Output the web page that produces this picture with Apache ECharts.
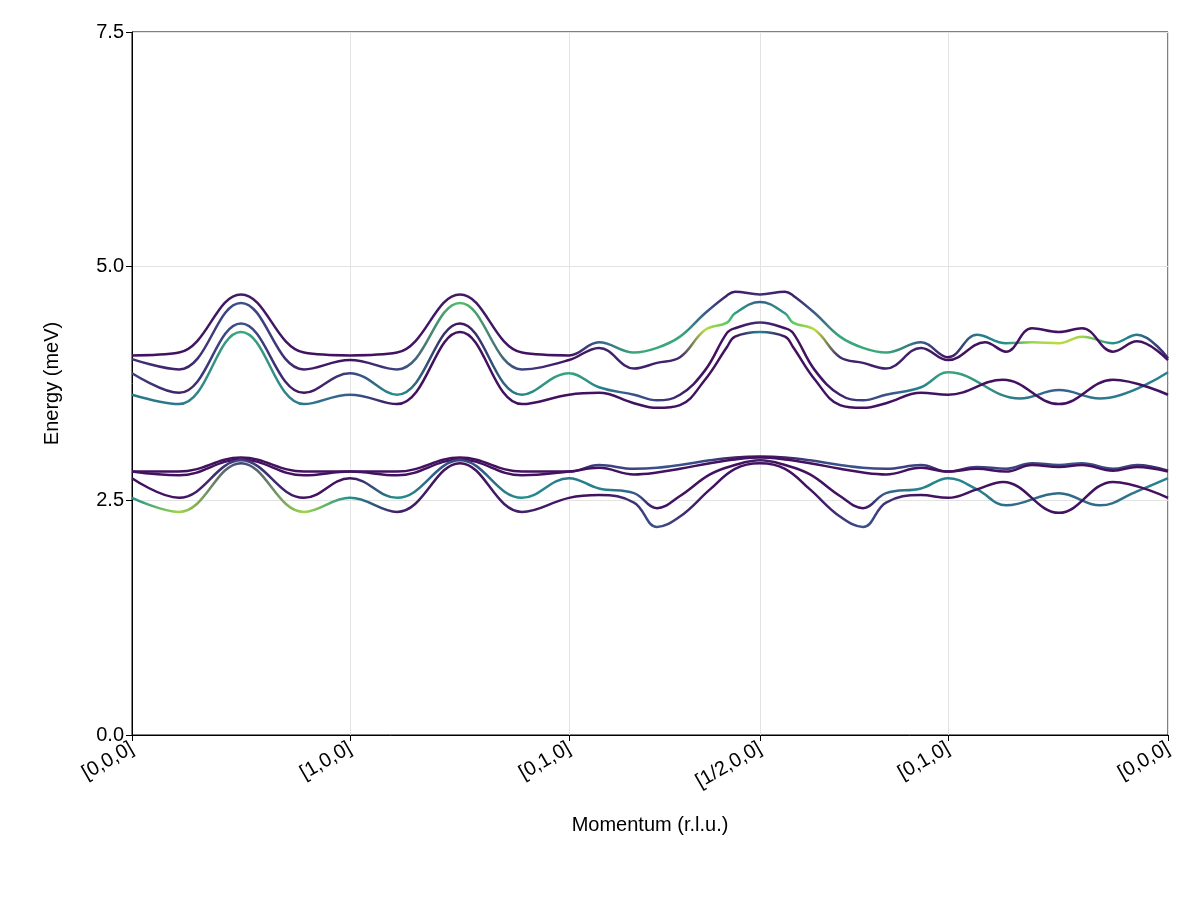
<!DOCTYPE html>
<html lang="en">
<head>
    <meta charset="UTF-8">
    <title>bands</title>
    <style>
        html, body { margin: 0; padding: 0; background: #fff; }
        #canvas { width: 1200px; height: 900px; }
    </style>
</head>
<body>
<div id="canvas"></div>
<script src="https://cdn.jsdelivr.net/npm/echarts@6/dist/echarts.min.js"></script>
<script>
    // path coordinate of each high-symmetry point, and its label
    const tickPos = [0, 218, 437, 628, 816, 1036]
    const tickLabels = ['[0,0,0]', '[1,0,0]', '[0,1,0]', '[1/2,0,0]', '[0,1,0]', '[0,0,0]']

    // each band: [path x, energy (meV), intensity 0..1]
    const upper1 = [
        [0, 4.05, .05], [47, 4.08, .05], [109, 4.70, .08], [172, 4.08, .05], [218, 4.05, .05],
        [265, 4.08, .05], [328, 4.70, .08], [390, 4.08, .05], [437, 4.05, .05],
        [467, 4.19, .3], [502, 4.08, .6], [525, 4.13, .6], [548, 4.25, .6], [573, 4.50, .3], [595, 4.69, .1], [603, 4.73, .08], [628, 4.70, .15],
        [653, 4.73, .08], [661, 4.69, .1], [683, 4.50, .3], [708, 4.25, .6], [731, 4.13, .6], [754, 4.08, .6], [789, 4.19, .3], [816, 4.03, .05],
        [845, 4.27, .4], [874, 4.18, .5], [900, 4.19, .85], [927, 4.18, .9], [950, 4.25, .85], [981, 4.18, .5], [1005, 4.27, .4], [1036, 4.02, .1]
    ]
    const upper2 = [
        [0, 4.01, .15], [47, 3.90, .1], [109, 4.61, .25], [172, 3.90, .1], [218, 4.00, .05],
        [265, 3.90, .2], [328, 4.61, .7], [390, 3.90, .2], [437, 4.00, .05],
        [467, 4.13, .1], [502, 3.91, .1], [525, 3.97, .1], [548, 4.03, .12], [573, 4.32, .9], [595, 4.40, .75], [603, 4.50, .55], [628, 4.62, .3],
        [653, 4.50, .55], [661, 4.40, .75], [683, 4.32, .9], [708, 4.03, .12], [731, 3.97, .1], [754, 3.91, .1], [789, 4.13, .1], [816, 4.00, .05],
        [853, 4.19, .05], [874, 4.09, .05], [900, 4.34, .05], [927, 4.30, .05], [950, 4.34, .05], [981, 4.09, .05], [1005, 4.20, .05], [1036, 4.00, .05]
    ]
    const upper3 = [
        [0, 3.86, .2], [47, 3.65, .1], [109, 4.39, .25], [172, 3.65, .05], [218, 3.86, .2],
        [265, 3.63, .5], [328, 4.39, .05], [390, 3.63, .45], [437, 3.86, .6],
        [467, 3.71, .45], [502, 3.63, .25], [525, 3.57, .2], [548, 3.63, .1], [573, 3.89, .05], [595, 4.29, .05], [603, 4.34, .05], [628, 4.40, .15],
        [653, 4.34, .05], [661, 4.29, .05], [683, 3.89, .05], [708, 3.63, .1], [731, 3.57, .2], [754, 3.63, .25], [789, 3.71, .45], [816, 3.87, .6],
        [888, 3.59, .4], [927, 3.68, .3], [968, 3.59, .4], [1036, 3.87, .45]
    ]
    const upper4 = [
        [0, 3.63, .4], [47, 3.53, .4], [109, 4.30, .6], [172, 3.53, .4], [218, 3.63, .3],
        [265, 3.53, .05], [328, 4.30, .05], [390, 3.53, .05], [437, 3.63, .05],
        [467, 3.65, .05], [502, 3.54, .05], [525, 3.49, .05], [548, 3.52, .05], [573, 3.79, .05], [595, 4.14, .05], [603, 4.25, .05], [628, 4.30, .45],
        [653, 4.25, .05], [661, 4.14, .05], [683, 3.79, .05], [708, 3.52, .05], [731, 3.49, .05], [754, 3.54, .05], [789, 3.65, .05], [816, 3.63, .05],
        [871, 3.79, .05], [927, 3.53, .05], [981, 3.79, .05], [1036, 3.63, .05]
    ]
    const lower1 = [
        [0, 2.81, .05], [47, 2.81, .05], [109, 2.96, .05], [172, 2.81, .05], [218, 2.81, .05],
        [265, 2.81, .05], [328, 2.96, .05], [390, 2.81, .05], [437, 2.81, .05],
        [467, 2.88, .2], [502, 2.84, .2], [525, 2.85, .25], [548, 2.88, .25], [578, 2.93, .2], [603, 2.96, .1], [628, 2.97, .05],
        [653, 2.96, .1], [678, 2.93, .2], [708, 2.88, .25], [731, 2.85, .25], [754, 2.84, .2], [789, 2.88, .2], [816, 2.81, .05],
        [845, 2.86, .2], [874, 2.84, .2], [900, 2.90, .2], [927, 2.88, .25], [950, 2.90, .25], [981, 2.84, .2], [1005, 2.88, .2], [1036, 2.82, .1]
    ]
    const lower2 = [
        [0, 2.81, .05], [47, 2.77, .05], [109, 2.94, .05], [172, 2.77, .05], [218, 2.81, .05],
        [265, 2.77, .05], [328, 2.94, .05], [390, 2.77, .05], [437, 2.81, .05],
        [467, 2.85, .05], [502, 2.78, .05], [525, 2.80, .05], [548, 2.84, .05], [578, 2.90, .05], [603, 2.94, .05], [628, 2.96, .05],
        [653, 2.94, .05], [678, 2.90, .05], [708, 2.84, .05], [731, 2.80, .05], [754, 2.78, .05], [789, 2.85, .05], [816, 2.81, .05],
        [845, 2.84, .05], [874, 2.81, .05], [900, 2.88, .05], [927, 2.86, .05], [950, 2.88, .05], [981, 2.82, .05], [1005, 2.86, .05], [1036, 2.81, .05]
    ]
    const lower3 = [
        [0, 2.74, .05], [47, 2.53, .05], [109, 2.93, .2], [172, 2.53, .05], [218, 2.74, .05],
        [265, 2.53, .5], [328, 2.93, .2], [390, 2.53, .5], [437, 2.74, .4],
        [467, 2.63, .45], [502, 2.58, .3], [525, 2.42, .05], [548, 2.55, .05], [578, 2.78, .05], [603, 2.88, .05], [628, 2.93, .1],
        [653, 2.88, .05], [678, 2.78, .05], [708, 2.55, .05], [731, 2.42, .05], [754, 2.58, .3], [789, 2.63, .45], [816, 2.74, .45],
        [845, 2.62, .45], [874, 2.45, .35], [927, 2.58, .35], [968, 2.45, .35], [1005, 2.60, .4], [1036, 2.74, .45]
    ]
    const lower4 = [
        [0, 2.53, .5], [47, 2.38, .85], [109, 2.90, .2], [172, 2.38, .85], [218, 2.53, .5],
        [265, 2.38, .1], [328, 2.90, .05], [390, 2.38, .1], [437, 2.53, .05],
        [467, 2.56, .05], [502, 2.48, .15], [525, 2.22, .25], [548, 2.33, .15], [578, 2.62, .05], [603, 2.84, .05], [628, 2.90, .05],
        [653, 2.84, .05], [678, 2.62, .05], [708, 2.33, .15], [731, 2.22, .25], [754, 2.48, .15], [789, 2.56, .05], [816, 2.53, .05],
        [845, 2.62, .05], [871, 2.70, .05], [927, 2.37, .05], [981, 2.70, .05], [1036, 2.53, .05]
    ]

    const bands = [upper1, upper2, upper3, upper4, lower1, lower2, lower3, lower4]

    // viridis colour ramp
    const viridis = [[68, 1, 84], [59, 82, 139], [33, 145, 140], [94, 201, 98], [253, 231, 37]]
    function colorOf(t) {
        const s = Math.max(0, Math.min(1, t)) * (viridis.length - 1)
        const i = Math.min(Math.floor(s), viridis.length - 2)
        const f = s - i
        const c = viridis[i].map((v, k) => Math.round(v + (viridis[i + 1][k] - v) * f))
        return `rgb(${c.join(',')})`
    }

    const chart = echarts.init(document.getElementById('canvas'))
    const font = 'Liberation Sans'
    const plotLeft = 132, plotRight = 32, xMax = 1036

    function gradientFor(band) {
        return new echarts.graphic.LinearGradient(plotLeft, 0, 1200 - plotRight, 0,
            band.map(p => ({ offset: p[0] / xMax, color: colorOf(p[2]) })), true)
    }

    chart.setOption({
        animation: false,
        textStyle: { fontFamily: font },
        grid: { left: plotLeft, right: plotRight, top: 32, bottom: 165, show: true, borderColor: '#000', borderWidth: 1 },
        xAxis: {
            type: 'value',
            min: 0,
            max: xMax,
            name: 'Momentum (r.l.u.)',
            nameLocation: 'middle',
            nameGap: 80,
            nameTextStyle: { fontSize: 20, color: '#000' },
            axisLine: { lineStyle: { color: '#000' } },
            axisTick: { customValues: tickPos, length: 6, lineStyle: { color: '#000' } },
            axisLabel: {
                customValues: tickPos,
                rotate: 30,
                fontSize: 20,
                color: '#000',
                margin: 12,
                formatter: v => tickLabels[tickPos.indexOf(v)]
            },
            splitLine: { show: true, lineStyle: { color: '#e3e3e3', width: 1 } }
        },
        yAxis: {
            type: 'value',
            min: 0,
            max: 7.5,
            interval: 2.5,
            name: 'Energy (meV)',
            nameLocation: 'middle',
            nameGap: 70,
            nameTextStyle: { fontSize: 20, color: '#000' },
            axisLine: { show: true, lineStyle: { color: '#000' } },
            axisTick: { show: true, length: 6, lineStyle: { color: '#000' } },
            axisLabel: { fontSize: 20, color: '#000', formatter: v => v.toFixed(1) },
            splitLine: { show: true, lineStyle: { color: '#e3e3e3', width: 1 } }
        },
        series: bands.map(b => ({
            type: 'line',
            data: b,
            smooth: 0.4,
            showSymbol: false,
            lineStyle: { width: 2.5, color: gradientFor(b) }
        }))
    })
</script>
</body>
</html>
